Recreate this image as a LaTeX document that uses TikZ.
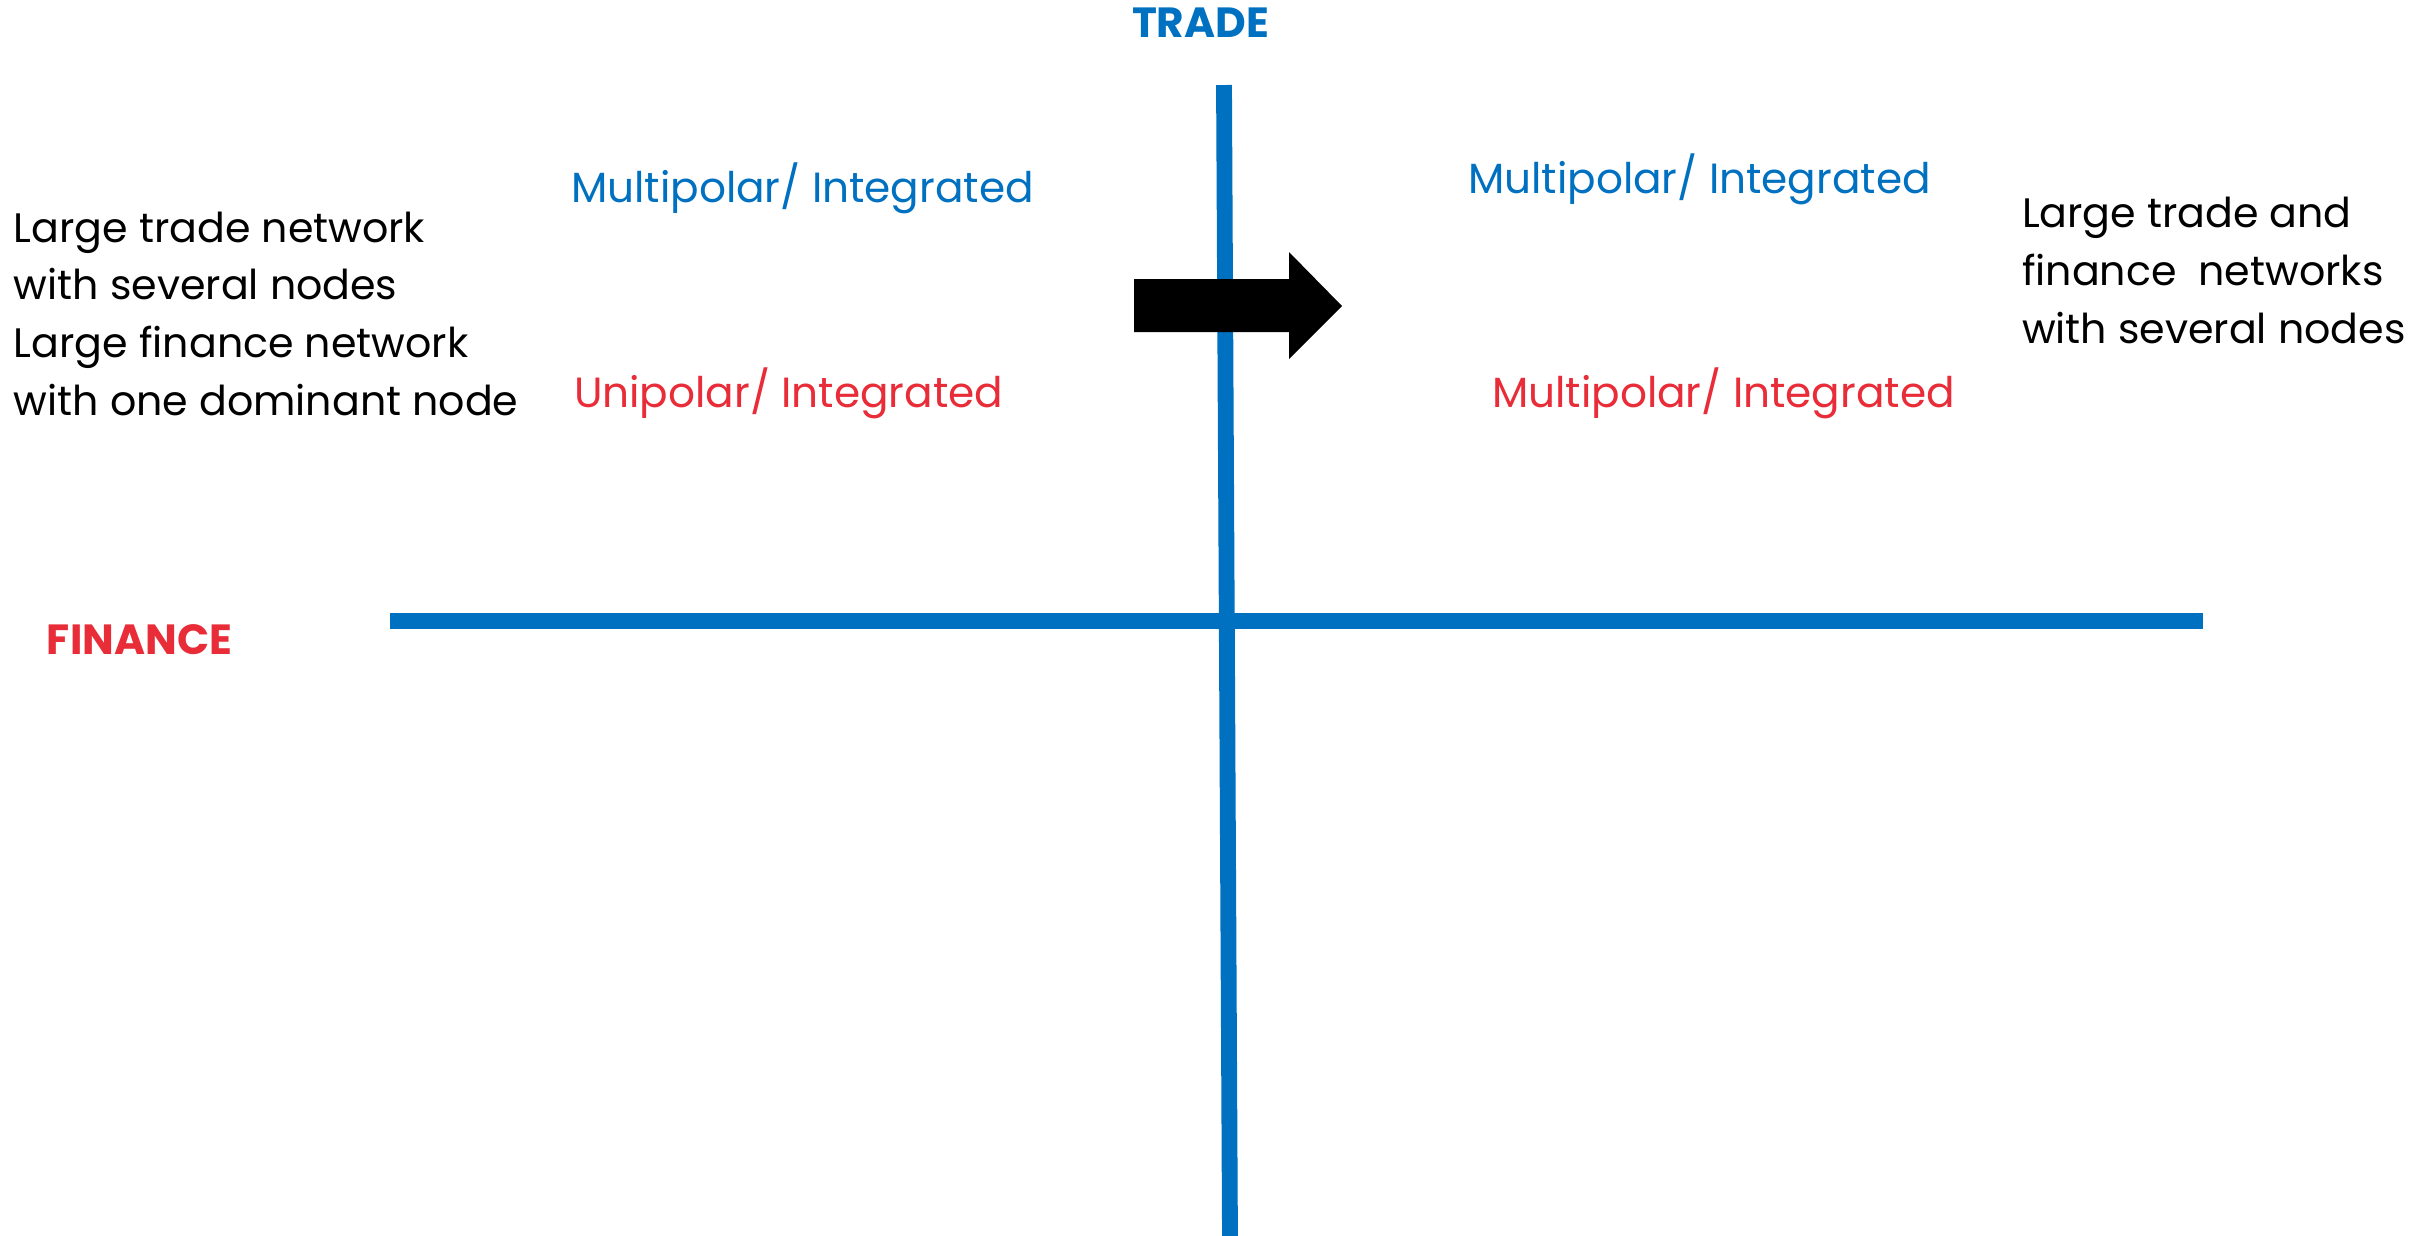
\documentclass[tikz,border=0pt]{standalone}
\usepackage{fontspec}
\setmainfont{Poppins}
\usetikzlibrary{positioning}
\definecolor{tradeblue}{RGB}{0,112,192}
\definecolor{financered}{RGB}{232,44,56}

\begin{document}
\begin{tikzpicture}[x=0.01cm,y=-0.01cm,
  every node/.style={inner sep=0pt,outer sep=0pt},
  axis/.style={line width=4.5pt,tradeblue},
  quad/.style={font=\fontsize{12}{14}\selectfont,anchor=base west},
  note/.style={font=\fontsize{11.7}{16.4}\selectfont,align=left,anchor=base west},
  axlabel/.style={font=\fontsize{12}{14}\selectfont\bfseries,anchor=base west}]
  \useasboundingbox (0,0) rectangle (2436,1235);
  % axes
  \coordinate (ttop) at (1224,85);
  \coordinate (tbot) at (1230,1240);
  \coordinate (fleft) at (390,621);
  \coordinate (fright) at (2203,621);
  \draw[axis] (fleft)--(fright);
  \draw[axis] (ttop)--(tbot);
  \node[axlabel,tradeblue] (trade) at (1132,37) {TRADE};
  \node[axlabel,financered] (finance) at (47,654) {FINANCE};
  % quadrant labels
  \node[quad,tradeblue] (tradeleft) at (571,202) {Multipolar/ Integrated};
  \node[quad,tradeblue] (traderight) at (1468,193) {Multipolar/ Integrated};
  \node[quad,financered] (finleft) at (574,407) {Unipolar/ Integrated};
  \node[quad,financered] (finright) at (1492,407) {Multipolar/ Integrated};
  % descriptions (anchored on the last line)
  \node[note] (before) at (14,415) {Large trade network\\with several nodes\\Large finance network\\with one dominant node};
  \node[note] (after) at (2022,343) {Large trade and\\finance\ \ networks\\with several nodes};
  % shift arrow
  \fill[black] (1134,279) -- (1289,279) -- (1289,252) -- (1342,306)
    -- (1289,359) -- (1289,332) -- (1134,332) -- cycle;
\end{tikzpicture}
\end{document}
